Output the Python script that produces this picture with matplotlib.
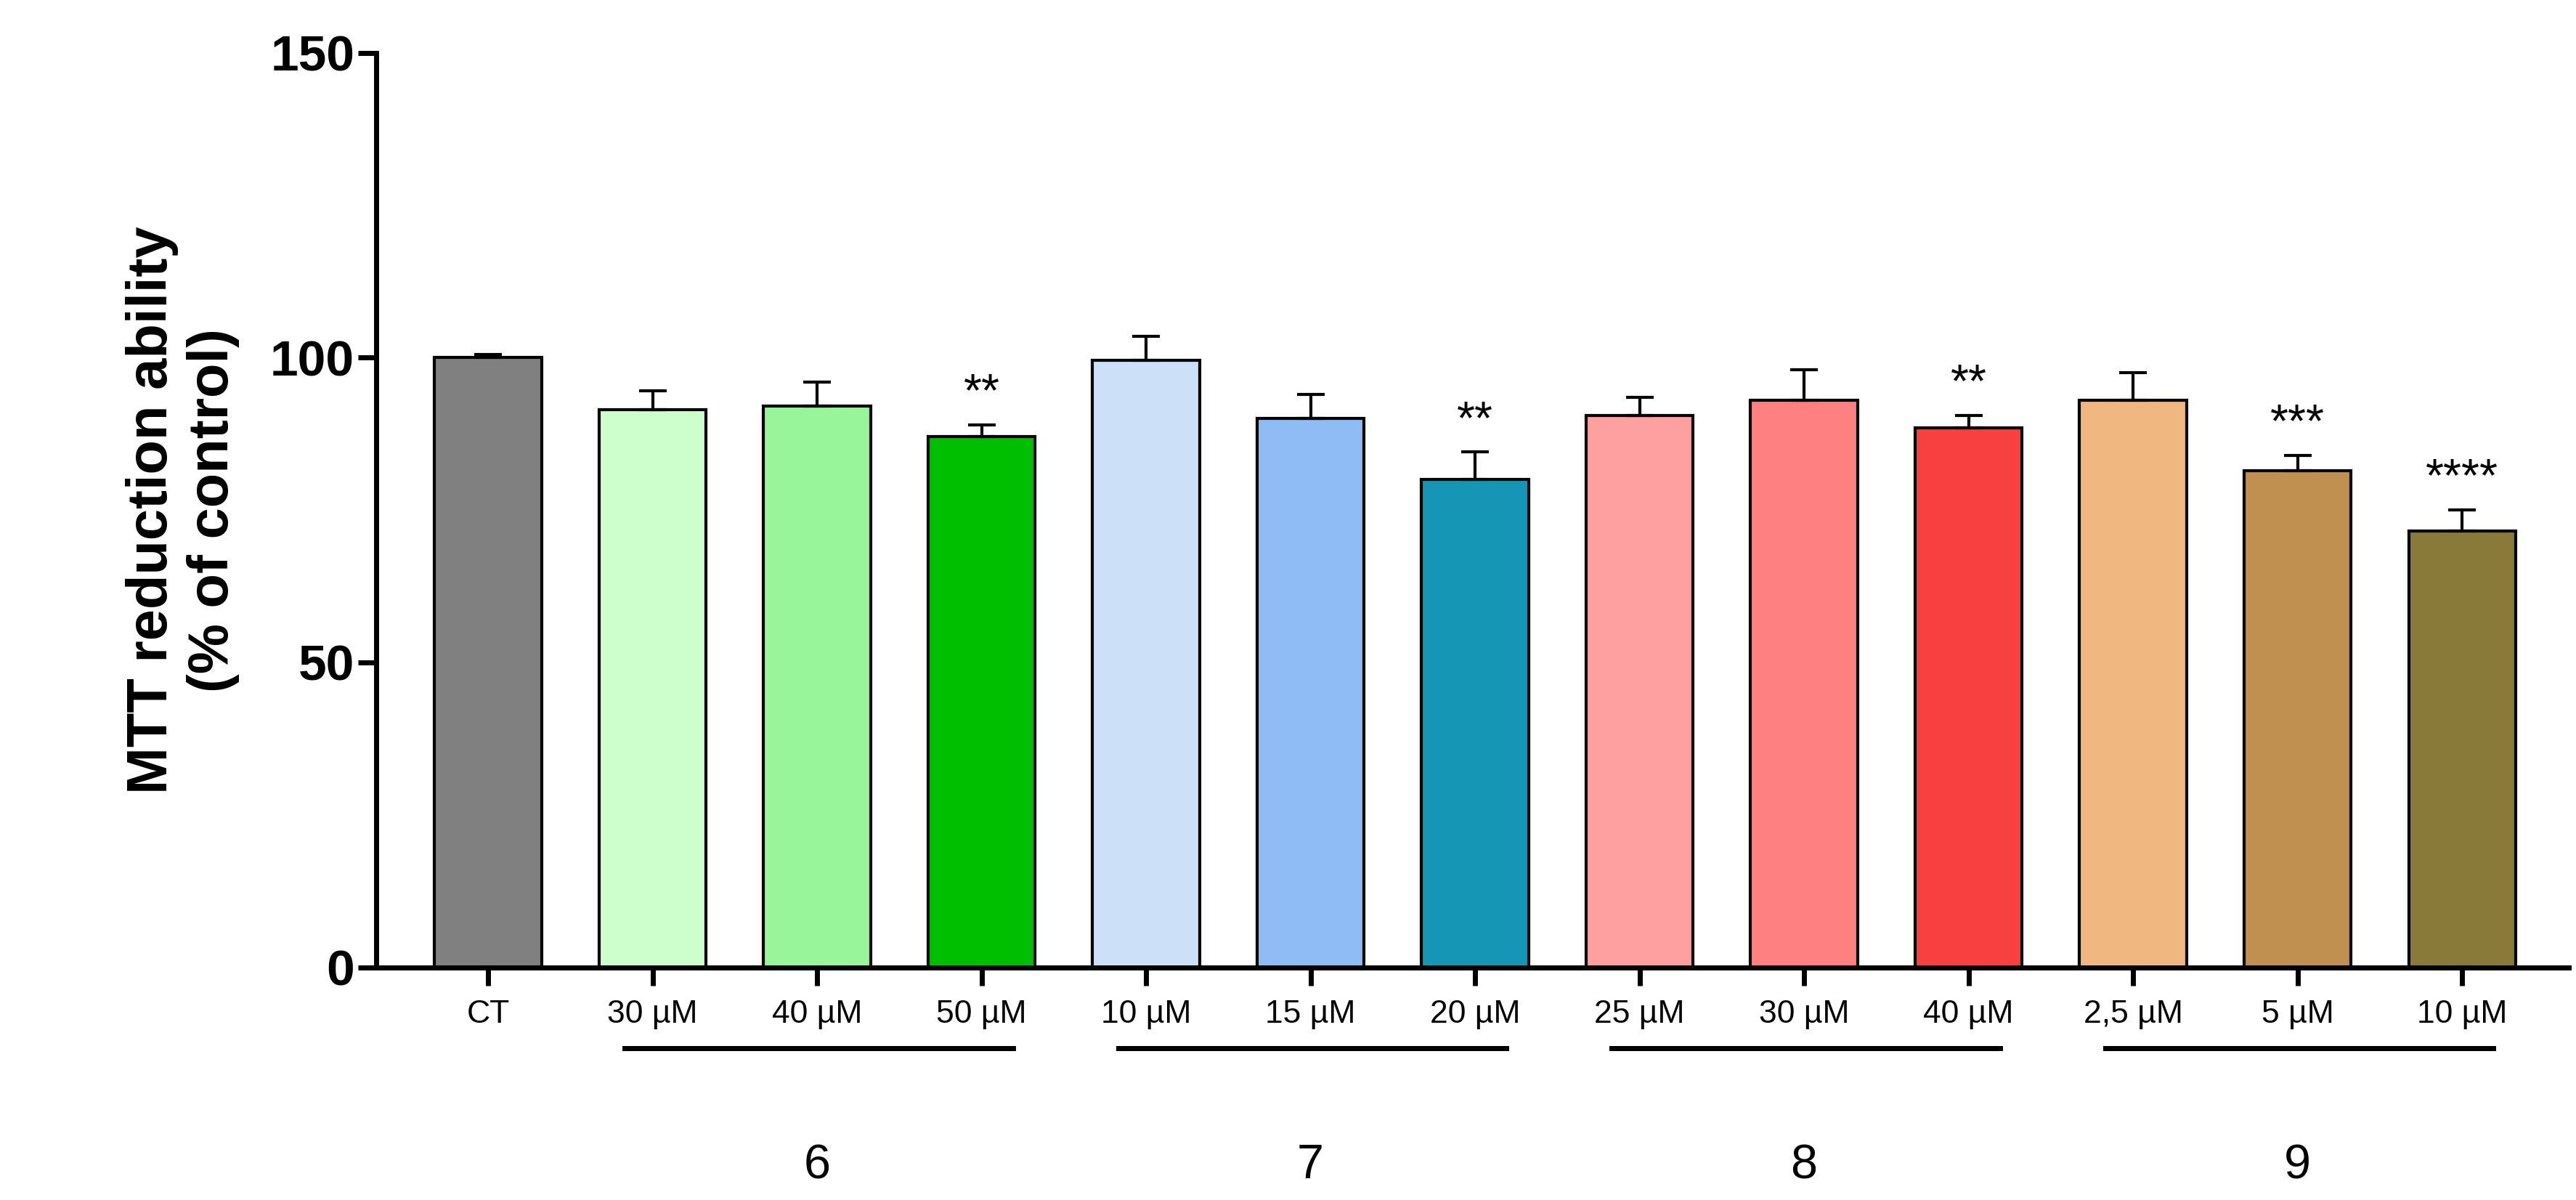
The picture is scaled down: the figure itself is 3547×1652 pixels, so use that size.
import matplotlib
matplotlib.use("Agg")
import matplotlib.pyplot as plt

plt.rcParams["font.family"] = "Liberation Sans"

labels = ["CT", "30 µM", "40 µM", "50 µM", "10 µM", "15 µM", "20 µM",
          "25 µM", "30 µM", "40 µM", "2,5 µM", "5 µM", "10 µM"]
values = [100, 91.5, 92, 87, 99.5, 90, 80, 90.5, 93, 88.5, 93, 81.5, 71.5]
errors = [0.5, 3, 4, 2, 4, 4, 4.5, 3, 5, 2, 4.5, 2.5, 3.5]
stars = ["", "", "", "**", "", "", "**", "", "", "**", "", "***", "****"]
colors = ["#808080", "#ccffcc", "#99f599", "#00bf00", "#cce0f8", "#8fbcf5", "#1496b4",
          "#ffa0a0", "#ff8080", "#f84040", "#f0b880", "#c09050", "#8a7a3a"]
groups = ["6", "7", "8", "9"]
group_members = [(1, 3), (4, 6), (7, 9), (10, 12)]

fig = plt.figure(figsize=(35.48, 16.52), dpi=100)
ax = fig.add_axes([0.146, 0.194, 0.851, 0.762])
x = list(range(len(values)))
ax.bar(x, values, width=0.65, color=colors, edgecolor="black", linewidth=3)
ax.errorbar(x, values, yerr=[[0]*len(errors), errors], fmt="none", ecolor="black",
            elinewidth=3, capsize=14, capthick=3)
for xi, v, e, s in zip(x, values, errors, stars):
    if s:
        ax.text(xi, v + e + 1.5, s, ha="center", va="bottom", fontsize=46)

ax.set_xlim(-0.68, 12.65)
ax.set_ylim(0, 150)
ax.set_yticks([0, 50, 100, 150])
ax.set_xticks(x)
ax.set_xticklabels(labels, fontsize=32)
ax.tick_params(axis="y", labelsize=50, width=5, length=18)
ax.tick_params(axis="x", width=5, length=18, pad=14)
for lab in ax.get_yticklabels():
    lab.set_fontweight("bold")
for sp in ["top", "right"]:
    ax.spines[sp].set_visible(False)
for sp in ["left", "bottom"]:
    ax.spines[sp].set_linewidth(5)
ax.set_ylabel("MTT reduction ability\n(% of control)", fontsize=56, fontweight="bold", labelpad=30)

for g, (a, b) in zip(groups, group_members):
    ax.plot([a - 0.17, b + 0.19], [-13.3, -13.3], color="black", lw=5, clip_on=False)
    ax.text((a + b) / 2, -32.6, g, ha="center", va="center", fontsize=48)

fig.savefig("out.png", dpi=100)
